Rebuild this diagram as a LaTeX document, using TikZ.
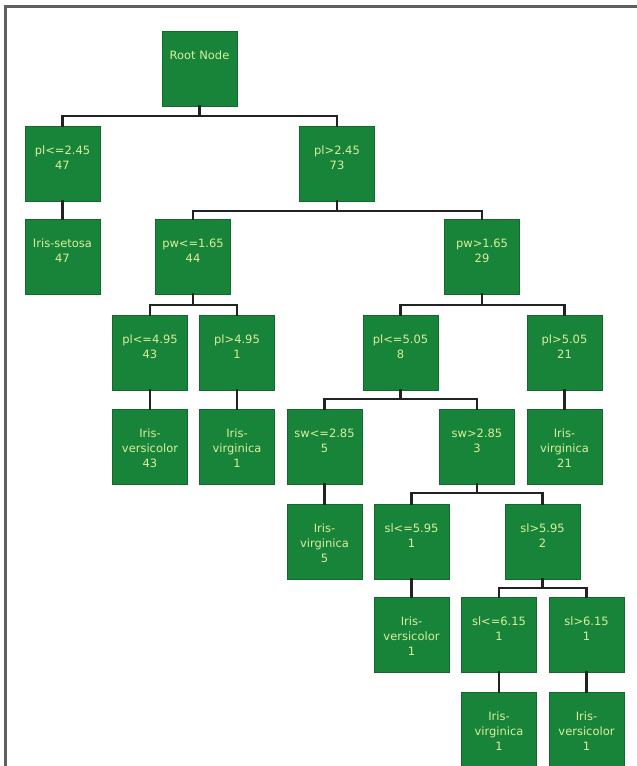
\documentclass[tikz,border=0pt]{standalone}
\usepackage{fontspec}
\setmainfont{DejaVu Sans}
\usepackage{tikz}
\definecolor{TreeGreen}{RGB}{24,132,58}
\definecolor{TreeEdge}{RGB}{18,104,46}
\definecolor{TreeText}{RGB}{218,238,158}
\definecolor{TreeLine}{RGB}{34,34,34}
\definecolor{TreeFrame}{RGB}{96,96,96}
\begin{document}
\begin{tikzpicture}[
x=0.03cm,
y=-0.03cm,
every node/.style={font=\fontsize{9.8}{12.6}\selectfont,outer sep=0pt},
treebox/.style={draw=TreeEdge,fill=TreeGreen,line width=0.5pt,minimum width=2.25cm,minimum height=2.25cm,inner sep=0pt},
boxtext/.style={text=TreeText,align=center,inner sep=0pt,anchor=north,yshift=-0.6cm},
treeline/.style={draw=TreeLine,line width=1.9pt,line cap=rect,line join=miter}
]

\path[use as bounding box] (0,0) rectangle (636,766);

\draw[draw=TreeFrame,line width=1.8pt] (5.5,770) -- (5.5,6.5) -- (640,6.5);

\node[treebox,label={[boxtext]north:{Root Node}}] (root) at (199.5,68.5) {};

\node[treebox,label={[boxtext]north:{pl<=2.45\\47}}] (plLo245) at (62.5,163.5) {};
\node[treebox,label={[boxtext]north:{pl>2.45\\73}}] (plHi245) at (337,163.5) {};

\node[treebox,label={[boxtext]north:{Iris-setosa\\47}}] (setosa) at (62.5,256.5) {};
\node[treebox,label={[boxtext]north:{pw<=1.65\\44}}] (pwLo165) at (193,256.5) {};
\node[treebox,label={[boxtext]north:{pw>1.65\\29}}] (pwHi165) at (482,256.5) {};

\node[treebox,label={[boxtext]north:{pl<=4.95\\43}}] (plLo495) at (150,352.5) {};
\node[treebox,label={[boxtext]north:{pl>4.95\\1}}] (plHi495) at (237,352.5) {};
\node[treebox,label={[boxtext]north:{pl<=5.05\\8}}] (plLo505) at (400.5,352.5) {};
\node[treebox,label={[boxtext]north:{pl>5.05\\21}}] (plHi505) at (564.5,352.5) {};

\node[treebox,label={[boxtext]north:{Iris-\\versicolor\\43}}] (versA) at (150,446.5) {};
\node[treebox,label={[boxtext]north:{Iris-\\virginica\\1}}] (virgA) at (237,446.5) {};
\node[treebox,label={[boxtext]north:{sw<=2.85\\5}}] (swLo285) at (324.5,446.5) {};
\node[treebox,label={[boxtext]north:{sw>2.85\\3}}] (swHi285) at (477,446.5) {};
\node[treebox,label={[boxtext]north:{Iris-\\virginica\\21}}] (virgB) at (564.5,446.5) {};

\node[treebox,label={[boxtext]north:{Iris-\\virginica\\5}}] (virgC) at (324.5,541.5) {};
\node[treebox,label={[boxtext]north:{sl<=5.95\\1}}] (slLo595) at (411.5,541.5) {};
\node[treebox,label={[boxtext]north:{sl>5.95\\2}}] (slHi595) at (542.5,541.5) {};

\node[treebox,label={[boxtext]north:{Iris-\\versicolor\\1}}] (versB) at (411.5,634.5) {};
\node[treebox,label={[boxtext]north:{sl<=6.15\\1}}] (slLo615) at (499,634.5) {};
\node[treebox,label={[boxtext]north:{sl>6.15\\1}}] (slHi615) at (586.5,634.5) {};

\node[treebox,label={[boxtext]north:{Iris-\\virginica\\1}}] (virgD) at (499,729.5) {};
\node[treebox,label={[boxtext]north:{Iris-\\versicolor\\1}}] (versC) at (586.5,729.5) {};

\coordinate (rootSplit) at (199.5,116);
\coordinate (plHiSplit) at (337,211);
\coordinate (pwLoSplit) at (193,305);
\coordinate (pwHiSplit) at (482,305);
\coordinate (plLoSplit) at (400.5,399);
\coordinate (swHiSplit) at (477,493);
\coordinate (slHiSplit) at (542.5,588);

\draw[treeline] (root.south) -- (rootSplit);
\draw[treeline] (rootSplit) -| (plLo245.north);
\draw[treeline] (rootSplit) -| (plHi245.north);

\draw[treeline] (plLo245.south) -- (setosa.north);
\draw[treeline] (plHi245.south) -- (plHiSplit);
\draw[treeline] (plHiSplit) -| (pwLo165.north);
\draw[treeline] (plHiSplit) -| (pwHi165.north);

\draw[treeline] (pwLo165.south) -- (pwLoSplit);
\draw[treeline] (pwLoSplit) -| (plLo495.north);
\draw[treeline] (pwLoSplit) -| (plHi495.north);
\draw[treeline] (pwHi165.south) -- (pwHiSplit);
\draw[treeline] (pwHiSplit) -| (plLo505.north);
\draw[treeline] (pwHiSplit) -| (plHi505.north);

\draw[treeline] (plLo495.south) -- (versA.north);
\draw[treeline] (plHi495.south) -- (virgA.north);
\draw[treeline] (plLo505.south) -- (plLoSplit);
\draw[treeline] (plLoSplit) -| (swLo285.north);
\draw[treeline] (plLoSplit) -| (swHi285.north);
\draw[treeline] (plHi505.south) -- (virgB.north);

\draw[treeline] (swLo285.south) -- (virgC.north);
\draw[treeline] (swHi285.south) -- (swHiSplit);
\draw[treeline] (swHiSplit) -| (slLo595.north);
\draw[treeline] (swHiSplit) -| (slHi595.north);

\draw[treeline] (slLo595.south) -- (versB.north);
\draw[treeline] (slHi595.south) -- (slHiSplit);
\draw[treeline] (slHiSplit) -| (slLo615.north);
\draw[treeline] (slHiSplit) -| (slHi615.north);

\draw[treeline] (slLo615.south) -- (virgD.north);
\draw[treeline] (slHi615.south) -- (versC.north);

\end{tikzpicture}
\end{document}
